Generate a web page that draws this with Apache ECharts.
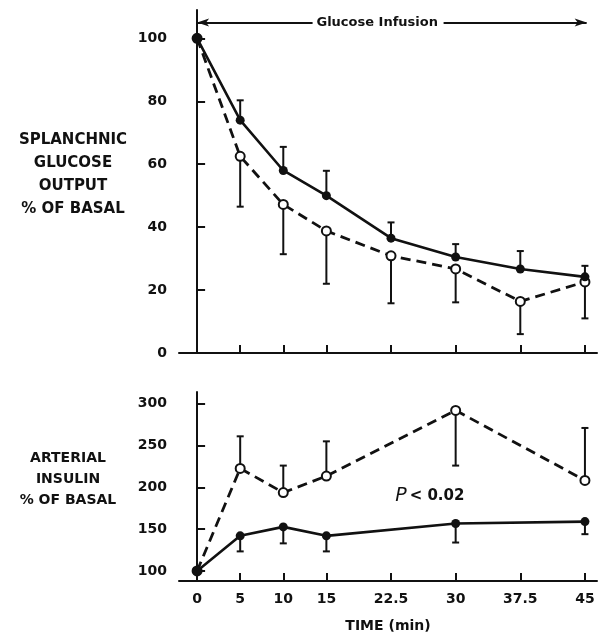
<!DOCTYPE html>
<html>
<head>
<meta charset="utf-8">
<script src="https://cdn.jsdelivr.net/npm/echarts@6/dist/echarts.min.js"></script>
<style>
  html, body { margin: 0; padding: 0; background: #fff; }
  #chart { width: 600px; height: 634px; }
</style>
</head>
<body>
<div id="chart"></div>
<script>
// time axis ticks (min)
const timeTicks = [0, 5, 10, 15, 22.5, 30, 37.5, 45];

// splanchnic glucose output, % of basal
const glucoseTime = [0, 5, 10, 15, 22.5, 30, 37.5, 45];
const glucoseSolid = [100, 74, 58, 50, 36.5, 30.5, 26.7, 24.2];
const glucoseSolidErr = [null, 80.3, 65.5, 57.9, 41.5, 34.6, 32.4, 27.7];
const glucoseOpen = [100, 62.5, 47.2, 38.8, 30.9, 26.7, 16.4, 22.6];
const glucoseOpenErr = [null, 46.5, 31.4, 22, 15.8, 16.1, 6, 11];
const glucoseTicks = [0, 20, 40, 60, 80, 100];

// arterial insulin, % of basal
const insulinTime = [0, 5, 10, 15, 30, 45];
const insulinSolid = [100, 142, 152.7, 142, 156.7, 159];
const insulinSolidErr = [null, 123.4, 133, 123.4, 134, 144];
const insulinOpen = [100, 222.6, 193.7, 213.5, 292, 208.3];
const insulinOpenErr = [null, 261, 226, 255, 226, 271];
const insulinTicks = [100, 150, 200, 250, 300];

// annotations
const infusionLeft = [0, 13.4];
const infusionRight = [28.6, 45.2];
const infusionY = 105;
const infusionLabelX = 20.9;
const pValuePos = [27, 190];

const ink = '#111';
const font = 'DejaVu Sans';

function pts(xs, ys) {
  return xs.map((x, i) => [x, ys[i]]);
}
function errs(xs, ys, es) {
  return xs.map((x, i) => [x, ys[i], es[i]]).filter(d => d[2] != null);
}

function errorBar(params, api) {
  const x = api.value(0);
  const a = api.coord([x, api.value(1)]);
  const b = api.coord([x, api.value(2)]);
  const style = { stroke: ink, lineWidth: 2 };
  return {
    type: 'group',
    children: [
      { type: 'line', shape: { x1: a[0], y1: a[1], x2: b[0], y2: b[1] }, style: style },
      { type: 'line', shape: { x1: b[0] - 3.5, y1: b[1], x2: b[0] + 3.5, y2: b[1] }, style: style }
    ]
  };
}

const axisLineStyle = { show: true, lineStyle: { color: ink, width: 2 } };
const tickLabel = { fontFamily: font, fontWeight: 'bold', fontSize: 14, color: ink };

function xAxis(idx, showLabels) {
  return {
    type: 'value', gridIndex: idx, min: -2.1, max: 46.4,
    axisLine: Object.assign({ onZero: false }, axisLineStyle),
    axisTick: { show: true, inside: true, length: 8, customValues: timeTicks, lineStyle: { color: ink, width: 2 } },
    axisLabel: Object.assign({ show: showLabels, customValues: timeTicks, margin: 11 }, tickLabel),
    splitLine: { show: false },
    name: showLabels ? 'TIME (min)' : '',
    nameLocation: 'middle', nameGap: 38,
    nameTextStyle: { fontFamily: font, fontWeight: 'bold', fontSize: 14, color: ink }
  };
}

// a short blank last line lifts the block a little above the axis middle
function yAxis(idx, min, max, ticks, name, gap, size, lh, lift) {
  return {
    type: 'value', gridIndex: idx, min: min, max: max,
    axisLine: axisLineStyle,
    axisTick: { show: true, inside: true, length: 8, customValues: ticks, lineStyle: { color: ink, width: 2 } },
    axisLabel: Object.assign({ customValues: ticks, margin: 12 }, tickLabel),
    splitLine: { show: false },
    name: name + '\n{s|}', nameLocation: 'middle', nameRotate: 0, nameGap: gap,
    nameTextStyle: {
      fontFamily: font, fontWeight: 'bold', fontSize: size, color: ink,
      align: 'center', lineHeight: lh,
      rich: { s: { fontSize: 1, lineHeight: lift } }
    }
  };
}

const solidLine = { color: ink, width: 2.6 };
const dashLine = { color: ink, width: 2.8, type: [10, 6] };

const chart = echarts.init(document.getElementById('chart'));
chart.setOption({
  animation: false,
  backgroundColor: '#fff',
  grid: [
    { left: 179, top: 10, width: 418, height: 343 },
    { left: 179, top: 392, width: 418, height: 190 }
  ],
  xAxis: [xAxis(0, false), xAxis(1, true)],
  yAxis: [
    yAxis(0, 0, 109, glucoseTicks, 'SPLANCHNIC\nGLUCOSE\nOUTPUT\n% OF BASAL', 106, 15, 23, 13),
    yAxis(1, 88, 314, insulinTicks, 'ARTERIAL\nINSULIN\n% OF BASAL', 111, 14, 21, 14)
  ],
  series: [
    {
      type: 'custom', xAxisIndex: 0, yAxisIndex: 0, renderItem: errorBar, silent: true,
      data: errs(glucoseTime, glucoseSolid, glucoseSolidErr), z: 1
    },
    {
      type: 'custom', xAxisIndex: 0, yAxisIndex: 0, renderItem: errorBar, silent: true,
      data: errs(glucoseTime, glucoseOpen, glucoseOpenErr), z: 1
    },
    {
      type: 'line', xAxisIndex: 0, yAxisIndex: 0, data: pts(glucoseTime, glucoseOpen),
      lineStyle: dashLine, symbol: 'circle', symbolSize: 9,
      itemStyle: { color: '#fff', borderColor: ink, borderWidth: 2 }, z: 2
    },
    {
      type: 'line', xAxisIndex: 0, yAxisIndex: 0, data: pts(glucoseTime, glucoseSolid),
      lineStyle: solidLine, symbol: 'circle', symbolSize: 9,
      itemStyle: { color: ink }, z: 3,
      markLine: {
        silent: true, animation: false,
        symbolSize: [6, 12],
        lineStyle: { color: ink, width: 2, type: 'solid' },
        label: { show: false },
        data: [
          [{ coord: [infusionLeft[0], infusionY], symbol: 'arrow' }, { coord: [infusionLeft[1], infusionY], symbol: 'none' }],
          [{ coord: [infusionRight[0], infusionY], symbol: 'none' }, { coord: [infusionRight[1], infusionY], symbol: 'arrow' }]
        ]
      },
      markPoint: {
        silent: true, symbolSize: 0,
        label: { show: true, position: 'inside', formatter: 'Glucose Infusion', fontFamily: font, fontWeight: 'bold', fontSize: 13, color: ink },
        data: [{ coord: [infusionLabelX, infusionY] }]
      }
    },
    {
      type: 'custom', xAxisIndex: 1, yAxisIndex: 1, renderItem: errorBar, silent: true,
      data: errs(insulinTime, insulinSolid, insulinSolidErr), z: 1
    },
    {
      type: 'custom', xAxisIndex: 1, yAxisIndex: 1, renderItem: errorBar, silent: true,
      data: errs(insulinTime, insulinOpen, insulinOpenErr), z: 1
    },
    {
      type: 'line', xAxisIndex: 1, yAxisIndex: 1, data: pts(insulinTime, insulinOpen),
      lineStyle: dashLine, symbol: 'circle', symbolSize: 9,
      itemStyle: { color: '#fff', borderColor: ink, borderWidth: 2 }, z: 2,
      markPoint: {
        silent: true, symbolSize: 0,
        label: {
          show: true, position: 'inside',
          formatter: '{p|P}{t|< 0.02}',
          rich: {
            p: { fontFamily: font, fontStyle: 'italic', fontSize: 19, color: ink, padding: [0, 3, 0, 0] },
            t: { fontFamily: font, fontWeight: 'bold', fontSize: 15, color: ink }
          }
        },
        data: [{ coord: pValuePos }]
      }
    },
    {
      type: 'line', xAxisIndex: 1, yAxisIndex: 1, data: pts(insulinTime, insulinSolid),
      lineStyle: solidLine, symbol: 'circle', symbolSize: 9,
      itemStyle: { color: ink }, z: 3
    }
  ]
});
</script>
</body>
</html>
